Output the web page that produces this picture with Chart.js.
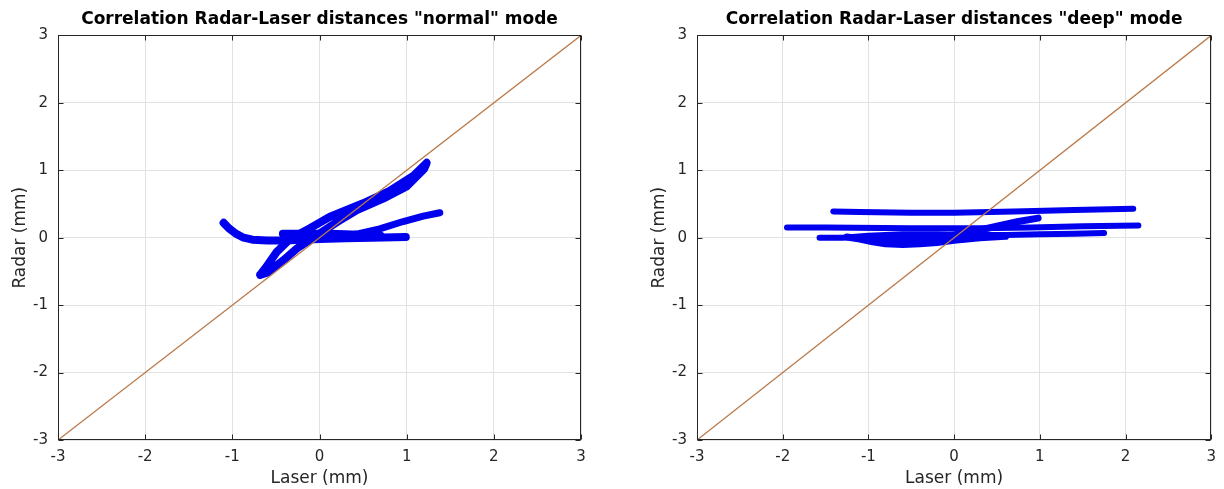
<!DOCTYPE html>
<html>
<head>
<meta charset="utf-8">
<script src="https://cdn.jsdelivr.net/npm/chart.js@4.4.1/dist/chart.umd.min.js"></script>
<style>
  body { margin: 0; background: #fff; width: 1224px; height: 489px; overflow: hidden; position: relative; }
  .plot { position: absolute; top: 0; }
</style>
</head>
<body>
<div class="plot" style="left:0px;width:600px;height:489px"><canvas id="normalChart"></canvas></div>
<div class="plot" style="left:639px;width:585px;height:489px"><canvas id="deepChart"></canvas></div>
<script>
// axis ticks (both plots)
var tickValues = [-3, -2, -1, 0, 1, 2, 3];

// reference line y = x
var diagX = [-3, 3];
var diagY = [-3, 3];

// "normal" mode traces (Laser mm, Radar mm)
var normalHookX = [-1.10, -1.04, -0.96, -0.87, -0.77, -0.60, -0.40, -0.20, 0.00, 0.30, 0.60, 0.99];
var normalHookY = [0.22, 0.14, 0.06, 0.00, -0.03, -0.04, -0.04, -0.03, -0.02, -0.01, 0.00, 0.01];
var normalBandX = [-0.42, -0.30, -0.10, 0.10, 0.30, 0.50, 0.70];
var normalBandY = [0.06, 0.06, 0.06, 0.06, 0.05, 0.04, 0.03];
var normalBranchX = [-0.20, 0.20, 0.45, 0.69, 0.96, 1.19, 1.38];
var normalBranchY = [0.00, 0.02, 0.06, 0.13, 0.24, 0.32, 0.37];
var normalLoopX = [-0.68, -0.62, -0.49, -0.34, -0.11, 0.12, 0.50, 0.80, 1.08, 1.23, 1.20, 1.00, 0.73, 0.43, 0.20, -0.07, -0.26, -0.41, -0.60, -0.68];
var normalLoopY = [-0.55, -0.45, -0.21, -0.02, 0.14, 0.31, 0.51, 0.69, 0.92, 1.11, 1.02, 0.76, 0.58, 0.41, 0.23, 0.00, -0.16, -0.33, -0.52, -0.55];

// "deep" mode traces
var deepTopX = [-1.41, -1.10, -0.50, 0.00, 0.70, 1.40, 2.09];
var deepTopY = [0.39, 0.38, 0.37, 0.37, 0.39, 0.41, 0.43];
var deepSecondX = [-1.95, -1.50, -0.50, 0.30, 0.90, 1.50, 2.15];
var deepSecondY = [0.15, 0.15, 0.14, 0.14, 0.15, 0.17, 0.18];
var deepThirdX = [-1.57, -1.30, -1.00, -0.60, -0.20, 0.20, 0.60, 1.00, 1.40, 1.75];
var deepThirdY = [0.00, 0.00, 0.03, 0.05, 0.05, 0.04, 0.04, 0.05, 0.06, 0.07];
var deepFillX = [-1.10, -0.80, -0.50, -0.20, 0.10, 0.40];
var deepFillY = [0.00, -0.02, -0.03, -0.02, 0.00, 0.02];
var deepLowX = [-1.25, -1.10, -0.95, -0.80, -0.60, -0.40, -0.20, 0.00, 0.30, 0.60];
var deepLowY = [0.01, -0.02, -0.06, -0.09, -0.10, -0.09, -0.07, -0.04, 0.00, 0.02];
var deepRiseX = [-0.30, 0.00, 0.25, 0.50, 0.75, 0.98];
var deepRiseY = [-0.01, 0.04, 0.10, 0.17, 0.24, 0.29];

function toPoints(xs, ys) {
    return xs.map(function(v, i) { return {x: v, y: ys[i]}; });
}

var textColor = '#262626';

// full box with inward ticks, like the original figure
var boxPlugin = {
    id: 'boxPlugin',
    afterDatasetsDraw: function(chart) {
        var ctx = chart.ctx;
        var a = chart.chartArea;
        var sx = chart.scales.x, sy = chart.scales.y;
        var l = Math.round(a.left) + 0.5, r = Math.round(a.right) - 0.5;
        var t = Math.round(a.top) + 0.5, b = Math.round(a.bottom) - 0.5;
        ctx.save();
        ctx.strokeStyle = textColor;
        ctx.lineWidth = 1;
        ctx.strokeRect(l, t, r - l, b - t);
        ctx.beginPath();
        tickValues.forEach(function(v) {
            var px = Math.round(sx.getPixelForValue(v)) + 0.5;
            ctx.moveTo(px, b); ctx.lineTo(px, b - 5);
            ctx.moveTo(px, t); ctx.lineTo(px, t + 5);
            var py = Math.round(sy.getPixelForValue(v)) + 0.5;
            ctx.moveTo(l, py); ctx.lineTo(l + 5, py);
            ctx.moveTo(r, py); ctx.lineTo(r - 5, py);
        });
        ctx.stroke();
        ctx.restore();
    }
};

function traceSet(xs, ys, width) {
    return {
        data: toPoints(xs, ys),
        showLine: true,
        borderColor: '#0000ee',
        backgroundColor: '#0000ee',
        borderWidth: width,
        borderCapStyle: 'round',
        borderJoinStyle: 'round',
        pointRadius: 0,
        order: 2
    };
}

function makeChart(id, title, traces, padRight) {
    var datasets = [{
        data: toPoints(diagX, diagY),
        showLine: true,
        borderColor: '#b8794a',
        borderWidth: 1.3,
        pointRadius: 0,
        order: 1
    }].concat(traces);

    return new Chart(document.getElementById(id), {
        type: 'scatter',
        data: { datasets: datasets },
        options: {
            responsive: true,
            maintainAspectRatio: false,
            animation: false,
            layout: { padding: { left: 0, right: padRight, top: 0, bottom: 0 } },
            plugins: {
                legend: { display: false },
                tooltip: { enabled: false },
                title: {
                    display: true,
                    text: title,
                    fullSize: false,
                    color: '#000',
                    font: { family: 'DejaVu Sans', size: 17, weight: 'bold' },
                    padding: { top: 9, bottom: 6 }
                }
            },
            scales: {
                x: {
                    type: 'linear', min: -3, max: 3,
                    afterFit: function(scale) { scale.height = 49; },
                    ticks: { stepSize: 1, color: textColor, padding: 8, font: { family: 'DejaVu Sans', size: 15 } },
                    grid: { color: '#e2e2e2', drawTicks: false },
                    border: { display: false },
                    title: { display: true, text: 'Laser (mm)', color: textColor, padding: 0, font: { family: 'DejaVu Sans', size: 17 } }
                },
                y: {
                    type: 'linear', min: -3, max: 3,
                    afterFit: function(scale) { scale.width = 58; },
                    ticks: { stepSize: 1, color: textColor, padding: 10, font: { family: 'DejaVu Sans', size: 15 } },
                    grid: { color: '#e2e2e2', drawTicks: false },
                    border: { display: false },
                    title: { display: true, text: 'Radar (mm)', color: textColor, padding: { top: 10, bottom: 0 }, font: { family: 'DejaVu Sans', size: 17 } }
                }
            }
        },
        plugins: [boxPlugin]
    });
}

makeChart('normalChart', 'Correlation Radar-Laser distances "normal" mode', [
    traceSet(normalHookX, normalHookY, 8),
    traceSet(normalBandX, normalBandY, 8),
    traceSet(normalBranchX, normalBranchY, 7),
    traceSet(normalLoopX, normalLoopY, 8)
], 19);

makeChart('deepChart', 'Correlation Radar-Laser distances "deep" mode', [
    traceSet(deepTopX, deepTopY, 6),
    traceSet(deepSecondX, deepSecondY, 6),
    traceSet(deepThirdX, deepThirdY, 6),
    traceSet(deepFillX, deepFillY, 6),
    traceSet(deepLowX, deepLowY, 7),
    traceSet(deepRiseX, deepRiseY, 7)
], 5);
</script>
</body>
</html>
